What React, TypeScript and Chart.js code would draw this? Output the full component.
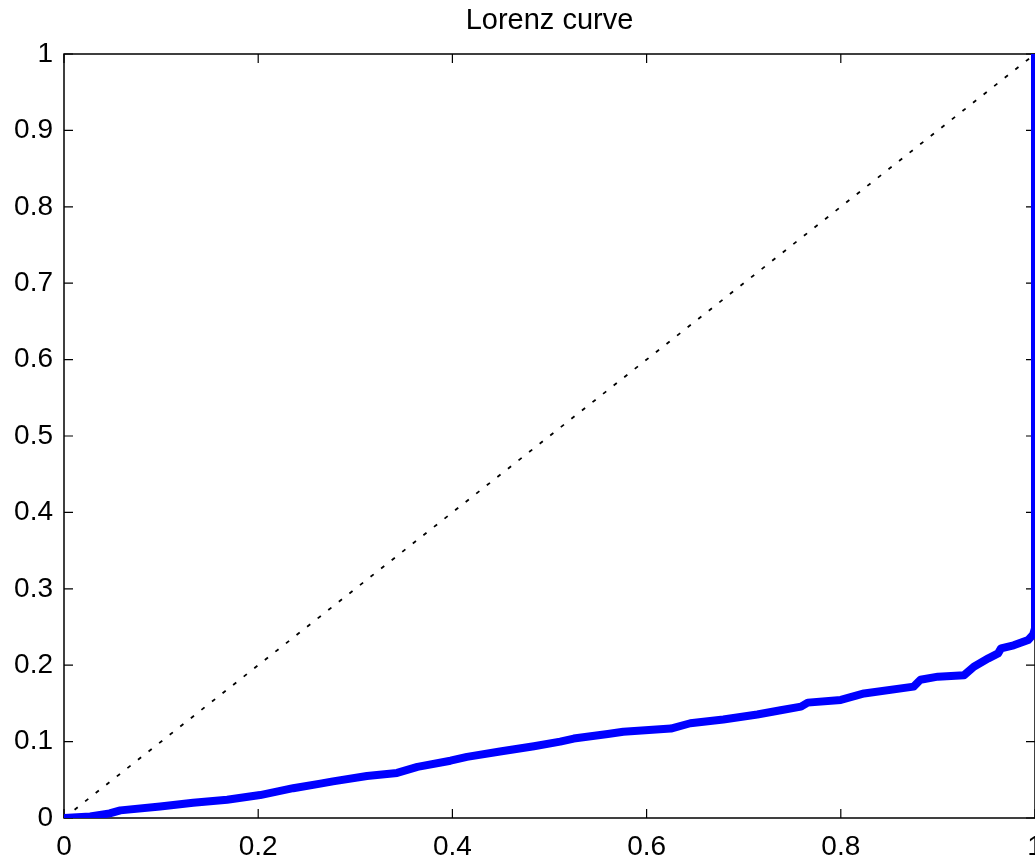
import React, { useEffect, useRef } from "react";
import { Chart, registerables } from "chart.js";

Chart.register(...registerables);

// Lorenz curve (cumulative share of population vs cumulative share of value)
const lorenzX = [
  0, 0.027, 0.047, 0.058, 0.099, 0.133, 0.168, 0.202, 0.236, 0.264, 0.277, 0.312,
  0.343, 0.364, 0.398, 0.415, 0.449, 0.484, 0.511, 0.525, 0.56, 0.576, 0.625, 0.645,
  0.679, 0.714, 0.738, 0.759, 0.766, 0.8, 0.824, 0.875, 0.882, 0.9, 0.927, 0.937,
  0.952, 0.962, 0.965, 0.978, 0.993, 0.998, 1.0, 1.0,
];
const lorenzY = [
  0, 0.002, 0.006, 0.01, 0.015, 0.02, 0.024, 0.03, 0.039, 0.045, 0.048, 0.055,
  0.059, 0.067, 0.075, 0.08, 0.087, 0.094, 0.1, 0.104, 0.11, 0.113, 0.117, 0.124,
  0.129, 0.1355, 0.141, 0.1457, 0.151, 0.1545, 0.163, 0.172, 0.181, 0.185, 0.187, 0.198,
  0.209, 0.2155, 0.222, 0.226, 0.233, 0.24, 0.248, 1.0,
];
// Line of perfect equality
const equalityX = [0, 1];
const equalityY = [0, 1];

const xTickLabels = ["0", "0.2", "0.4", "0.6", "0.8", "1"];
const yTickLabels = ["0", "0.1", "0.2", "0.3", "0.4", "0.5", "0.6", "0.7", "0.8", "0.9", "1"];

const FONT = "'Liberation Sans', Arial, Helvetica, sans-serif";

const frameAndTicks = {
  id: "frameAndTicks",
  beforeDatasetsDraw(chart: any) {
    const { ctx, chartArea, scales } = chart;
    const { left, right, top, bottom } = chartArea;
    const tl = 9;
    ctx.save();
    ctx.strokeStyle = "#000";
    ctx.lineWidth = 1.2;
    ctx.beginPath();
    for (const t of scales.x.ticks) {
      const px = scales.x.getPixelForValue(t.value);
      ctx.moveTo(px, bottom);
      ctx.lineTo(px, bottom - tl);
      ctx.moveTo(px, top);
      ctx.lineTo(px, top + tl);
    }
    for (const t of scales.y.ticks) {
      const py = scales.y.getPixelForValue(t.value);
      ctx.moveTo(left, py);
      ctx.lineTo(left + tl, py);
      ctx.moveTo(right, py);
      ctx.lineTo(right - tl, py);
    }
    ctx.stroke();
    ctx.lineWidth = 1.5;
    ctx.strokeRect(left, top, right - left, bottom - top);
    ctx.restore();
  },
};

export default function App() {
  const ref = useRef<HTMLCanvasElement | null>(null);

  useEffect(() => {
    if (!ref.current) return;
    const chart = new Chart(ref.current, {
      type: "line",
      data: {
        datasets: [
          {
            label: "Lorenz curve",
            data: lorenzX.map((x, i) => ({ x, y: lorenzY[i] })),
            borderColor: "#0000ff",
            backgroundColor: "#0000ff",
            borderWidth: 8,
            pointRadius: 0,
            borderCapStyle: "round",
            borderJoinStyle: "round",
            tension: 0,
            order: 1,
          },
          {
            label: "Equality",
            data: equalityX.map((x, i) => ({ x, y: equalityY[i] })),
            borderColor: "#000000",
            borderWidth: 1.8,
            borderDash: [4, 9.45],
            pointRadius: 0,
            tension: 0,
            order: 2,
          },
        ],
      },
      options: {
        animation: false,
        responsive: false,
        maintainAspectRatio: false,
        layout: { padding: { left: 0, right: 0, top: 0, bottom: 0 } },
        plugins: {
          legend: { display: false },
          tooltip: { enabled: false },
          title: {
            display: true,
            fullSize: false,
            text: "Lorenz curve",
            color: "#000",
            font: { family: FONT, size: 29, weight: "normal" },
            padding: { top: 4, bottom: 15.2 },
          },
        },
        scales: {
          x: {
            type: "linear",
            min: 0,
            max: 1,
            grid: { display: false, drawTicks: false },
            border: { display: false },
            ticks: {
              stepSize: 0.2,
              color: "#000",
              font: { family: FONT, size: 28 },
              padding: 12,
              maxRotation: 0,
              autoSkip: false,
              callback: (_v: any, i: number) => xTickLabels[i],
            },
            afterFit: (s: any) => {
              s.height = 41;
              s.paddingLeft = 0;
              s.paddingRight = 0;
            },
          },
          y: {
            type: "linear",
            min: 0,
            max: 1,
            grid: { display: false, drawTicks: false },
            border: { display: false },
            ticks: {
              stepSize: 0.1,
              color: "#000",
              font: { family: FONT, size: 28 },
              padding: 11,
              autoSkip: false,
              callback: (_v: any, i: number) => yTickLabels[i],
            },
            afterFit: (s: any) => {
              s.width = 64;
              s.paddingTop = 0;
              s.paddingBottom = 0;
            },
          },
        },
      },
      plugins: [frameAndTicks],
    });
    return () => chart.destroy();
  }, []);

  return (
    <div style={{ position: "fixed", left: 0, top: 0, width: 1035, height: 859, background: "#fff" }}>
      <canvas ref={ref} width={1035} height={859} style={{ display: "block" }} />
    </div>
  );
}
